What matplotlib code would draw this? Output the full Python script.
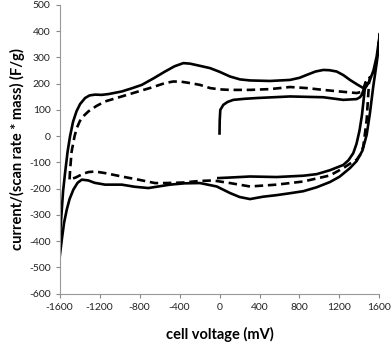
import matplotlib
matplotlib.use('Agg')
import matplotlib.pyplot as plt

# outer solid loop: forward sweep then reverse sweep
outer_x = [-1600, -1585, -1565, -1545, -1520, -1495, -1465, -1430, -1395, -1345, -1300, -1245,
           -1180, -1112, -978, -878, -778, -660, -545, -450, -362, -295, -200, -95, 0, 105,
           205, 305, 505, 705, 800, 872, 960, 1038, 1100, 1172, 1240, 1305, 1380, 1438, 1470,
           1505, 1540, 1572, 1605,
           1590, 1572, 1538, 1505, 1472, 1430, 1372, 1305, 1200, 1105, 972, 838, 700, 572,
           435, 305, 200, 105, -28, -195, -350, -495, -712, -850, -978, -1145, -1250, -1312,
           -1378, -1420, -1462, -1500, -1528, -1555, -1578, -1605, -1600]
outer_y = [-400, -320, -210, -140, -60, 0, 55, 95, 122, 145, 155, 158,
           157, 160, 170, 182, 195, 220, 246, 266, 278, 276, 268, 259, 245, 227,
           216, 212, 210, 214, 222, 233, 246, 252, 251, 246, 232, 214, 196, 183, 190,
           214, 250, 303, 392,
           330, 278, 189, 88, 5, -55, -95, -122, -155, -175, -195, -210, -218, -225,
           -231, -240, -232, -217, -192, -179, -180, -185, -198, -193, -185, -185, -178, -169,
           -166, -178, -204, -240, -280, -330, -395, -480, -400]

# dashed loop
dash_x = [-1500, -1495, -1480, -1450, -1428, -1400, -1378, -1312, -1230, -1145, -978, -812,
          -680, -545, -462, -380, -295, -195, -95, 0, 105, 305, 505, 705, 870, 1038, 1200,
          1372, 1440, 1480, 1505,
          1495, 1485, 1472, 1455, 1438, 1410, 1372, 1305, 1238, 1105, 838, 572, 305, 105,
          -65, -200, -365, -545, -645, -812, -978, -1145, -1245, -1310, -1362, -1440, -1500]
dash_y = [-165, -130, -60, 0, 30, 55, 70, 94, 115, 132, 151, 170,
          185, 202, 208, 207, 202, 195, 183, 178, 176, 176, 179, 187, 183, 176, 170,
          164, 170, 200, 225,
          200, 140, 62, 10, -40, -70, -90, -105, -122, -150, -173, -185, -192, -179,
          -169, -171, -177, -179, -179, -166, -154, -141, -135, -137, -143, -158, -165]

# first cycle starting at 0 mV
inner_x = [0, 2, 8, 38, 80, 138, 250, 372, 705, 1038, 1238, 1372, 1405, 1422, 1440, 1460,
           1445, 1425, 1400, 1370, 1338, 1290, 1238, 1105, 972, 838, 572, 305, 100, -12]
inner_y = [10, 60, 100, 119, 130, 138, 142, 145, 151, 148, 138, 141, 148, 157, 175, 205,
           150, 80, 20, -30, -65, -92, -110, -130, -145, -151, -156, -154, -158, -160]

xticks = list(range(-1600, 1601, 400))
yticks = list(range(-600, 501, 100))

plt.rcParams['font.family'] = ['Lato', 'DejaVu Sans']
plt.rcParams['axes.unicode_minus'] = False

fig = plt.figure(figsize=(3.92, 3.47), dpi=100)
ax = fig.add_axes([0.152, 0.154, 0.816, 0.832])

ax.plot(outer_x, outer_y, color='black', lw=1.9, solid_joinstyle='round')
ax.plot(inner_x, inner_y, color='black', lw=1.9, solid_joinstyle='round')
ax.plot(dash_x, dash_y, color='black', lw=1.9, ls=(0, (3.2, 1.8)))

ax.set_xlim(-1600, 1600)
ax.set_ylim(-600, 500)
ax.set_xticks(xticks)
ax.set_yticks(yticks)
ax.tick_params(labelsize=7.5, colors='#888888', labelcolor='#222222', length=3, width=0.8)
for s in ['top', 'right']:
    ax.spines[s].set_visible(False)
for s in ['left', 'bottom']:
    ax.spines[s].set_color('#999999')
    ax.spines[s].set_linewidth(0.8)

ax.set_xlabel('cell voltage (mV)', fontsize=10.5, fontweight='bold', labelpad=11)
ax.set_ylabel('current/(scan rate * mass) (F/g)', fontsize=10.5, fontweight='bold', labelpad=3)

fig.savefig('out.png', dpi=100)
